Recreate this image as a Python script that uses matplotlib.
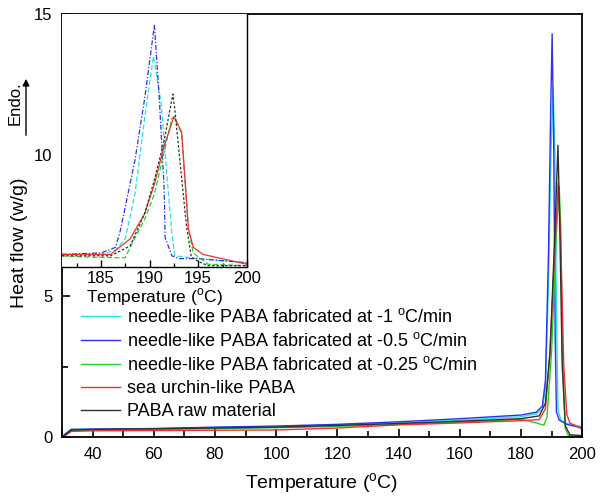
import matplotlib
matplotlib.use('Agg')
import matplotlib.pyplot as plt
from matplotlib.ticker import MultipleLocator

plt.rcParams['font.family'] = ['Liberation Sans', 'DejaVu Sans']
plt.rcParams['mathtext.fontset'] = 'custom'
plt.rcParams['mathtext.rm'] = 'Liberation Sans'

labels = ['needle-like PABA fabricated at -1 $^{\\mathregular{o}}$C/min',
          'needle-like PABA fabricated at -0.5 $^{\\mathregular{o}}$C/min',
          'needle-like PABA fabricated at -0.25 $^{\\mathregular{o}}$C/min',
          'sea urchin-like PABA',
          'PABA raw material']
colors = ['#1ee6e6', '#3030f0', '#22d022', '#f03030', '#303030']

# main curves (temperature, heat flow)
x_cyan = [30, 31, 33, 40, 60, 80, 100, 120, 140, 160, 180, 185, 187, 188, 189, 189.8, 190.5, 191.1, 191.6, 192.1, 193, 195, 200]
y_cyan = [0, 0.1, 0.27, 0.28, 0.3, 0.34, 0.37, 0.43, 0.5, 0.6, 0.72, 0.82, 1.0, 1.7, 5.5, 10.0, 12.4, 10.0, 4.5, 1.0, 0.6, 0.48, 0.37]
x_blue = [30, 31, 33, 40, 60, 80, 100, 120, 140, 160, 180, 185, 187, 188, 189, 189.7, 190.2, 190.7, 191.2, 191.6, 192.5, 195, 200]
y_blue = [0, 0.1, 0.27, 0.28, 0.3, 0.35, 0.39, 0.45, 0.54, 0.65, 0.78, 0.88, 1.1, 2.0, 6.5, 11.5, 14.3, 10.5, 3.5, 0.9, 0.6, 0.45, 0.32]
x_green = [30, 31, 33, 40, 60, 80, 100, 120, 140, 160, 180, 185, 187.5, 188.5, 190, 191.5, 192.5, 193, 193.5, 194.5, 195.5, 200]
y_green = [0, 0.05, 0.22, 0.25, 0.27, 0.3, 0.33, 0.38, 0.45, 0.53, 0.63, 0.5, 0.42, 0.7, 3.0, 7.0, 8.9, 7.5, 3.0, 0.3, 0.05, 0.03]
x_red = [30, 31, 33, 40, 60, 80, 100, 120, 140, 160, 180, 186, 188, 189.5, 191, 192.2, 193, 194, 195, 196, 200]
y_red = [0, 0.05, 0.2, 0.22, 0.23, 0.24, 0.25, 0.32, 0.43, 0.5, 0.58, 0.62, 1.0, 3.0, 6.5, 9.0, 7.0, 2.5, 0.8, 0.5, 0.28]
x_black = [30, 31, 33, 40, 60, 80, 100, 120, 140, 160, 180, 186, 188, 189.5, 191, 192.1, 192.6, 193.5, 194.5, 196, 200]
y_black = [0, 0.08, 0.25, 0.27, 0.29, 0.32, 0.35, 0.41, 0.48, 0.56, 0.65, 0.75, 1.2, 3.0, 7.0, 10.35, 8.0, 2.5, 0.4, 0.08, 0.05]

# inset curves (zoomed peak region)
ix_cyan = [181, 185, 186.5, 187.5, 188.5, 189.5, 190.4, 191.2, 191.8, 192.3, 192.6, 195, 200]
iy_cyan = [6.45, 6.45, 6.6, 7.0, 8.6, 11.3, 13.5, 11.8, 9.2, 7.2, 6.4, 6.3, 6.15]
ix_blue = [181, 185, 186.5, 187, 188.5, 189.5, 190.5, 191.0, 191.5, 191.6, 192.3, 193, 195, 200]
iy_blue = [6.45, 6.5, 6.7, 7.3, 9.8, 12.0, 14.6, 12.0, 8.8, 7.05, 6.4, 6.3, 6.3, 6.15]
ix_green = [181, 184, 187.5, 188, 189.5, 190.5, 191.5, 192.3, 192.6, 193.3, 194, 194.5, 196, 200]
iy_green = [6.4, 6.35, 6.33, 6.7, 7.7, 8.6, 10.1, 11.3, 11.3, 10.75, 7.35, 6.5, 6.1, 6.05]
ix_red = [181, 186, 188, 189.5, 190.5, 191.5, 192.5, 193.3, 194, 194.5, 195.5, 200]
iy_red = [6.45, 6.45, 7.0, 7.9, 8.95, 10.3, 11.35, 10.8, 7.35, 6.7, 6.45, 6.1]
ix_black = [181, 186, 188, 189.5, 190.5, 191.5, 192.4, 192.6, 193, 193.8, 194.3, 195, 196, 200]
iy_black = [6.4, 6.4, 6.75, 7.9, 9.1, 10.5, 12.15, 11.6, 10.2, 7.45, 6.35, 6.2, 6.05, 6.05]

main_x = [x_cyan, x_blue, x_green, x_red, x_black]
main_y = [y_cyan, y_blue, y_green, y_red, y_black]
ins_x = [ix_cyan, ix_blue, ix_green, ix_red, ix_black]
ins_y = [iy_cyan, iy_blue, iy_green, iy_red, iy_black]
ins_styles = [(0, (4, 2)), (0, (4, 1.5, 1, 1.5)), (0, (4, 2)), '-', (0, (2, 1.5))]

fig = plt.figure(figsize=(6.02, 5.01), dpi=100)
ax = fig.add_axes([0.103, 0.1277, 0.864, 0.844])

for xs, ys, c, lab in zip(main_x, main_y, colors, labels):
    ax.plot(xs, ys, color=c, lw=1.0, label=lab)

ax.set_xlim(30, 200)
ax.set_ylim(0, 15)
ax.xaxis.set_major_locator(MultipleLocator(20))
ax.xaxis.set_minor_locator(MultipleLocator(10))
ax.yaxis.set_major_locator(MultipleLocator(5))
ax.yaxis.set_minor_locator(MultipleLocator(2.5))
ax.tick_params(which='both', direction='in', labelsize=12, width=1.2)
ax.tick_params(which='major', length=6, pad=7)
ax.tick_params(which='minor', length=4)
for s in ax.spines.values():
    s.set_linewidth(1.3)
ax.set_xlabel('Temperature ($^{\\mathregular{o}}$C)', fontsize=14)
ax.set_ylabel('Heat flow (w/g)', fontsize=14)
ax.xaxis.set_label_coords(0.5, -0.082)
ax.yaxis.set_label_coords(-0.066, 0.46)

ax.legend(loc='upper left', bbox_to_anchor=(0.036, 0.305), frameon=False,
          fontsize=13, handlelength=2.2, handletextpad=0.35, labelspacing=0.33,
          borderpad=0, borderaxespad=0)

# inset
ins = fig.add_axes([0.103, 0.467, 0.307, 0.505])
for xs, ys, c, ls in zip(ins_x, ins_y, colors, ins_styles):
    ins.plot(xs, ys, color=c, lw=0.9, linestyle=ls)
ins.set_xlim(181, 200)
ins.set_ylim(6.0, 15)
ins.xaxis.set_major_locator(MultipleLocator(5))
ins.xaxis.set_minor_locator(MultipleLocator(2.5))
ins.tick_params(axis='x', which='both', direction='in', labelsize=12, width=1.0, pad=3)
ins.tick_params(axis='x', which='major', length=5)
ins.tick_params(axis='x', which='minor', length=3)
ins.set_yticks([])
ins.spines['left'].set_visible(False)
ins.spines['top'].set_visible(False)
ins.spines['right'].set_linewidth(1.0)
ins.spines['bottom'].set_linewidth(1.0)
ins.set_xlabel('Temperature ($^{\\mathregular{o}}$C)', fontsize=12.5, labelpad=0)

# endothermic direction marker
fig.text(15 / 602, 1 - 103 / 501, 'Endo.', rotation=90, ha='center', va='center', fontsize=12)
fig.add_artist(matplotlib.patches.FancyArrowPatch(
    (26 / 602, 1 - 138 / 501), (26 / 602, 1 - 76 / 501), transform=fig.transFigure,
    arrowstyle='-|>', mutation_scale=10, color='black', lw=1.0))

fig.savefig('out.png', dpi=100)
